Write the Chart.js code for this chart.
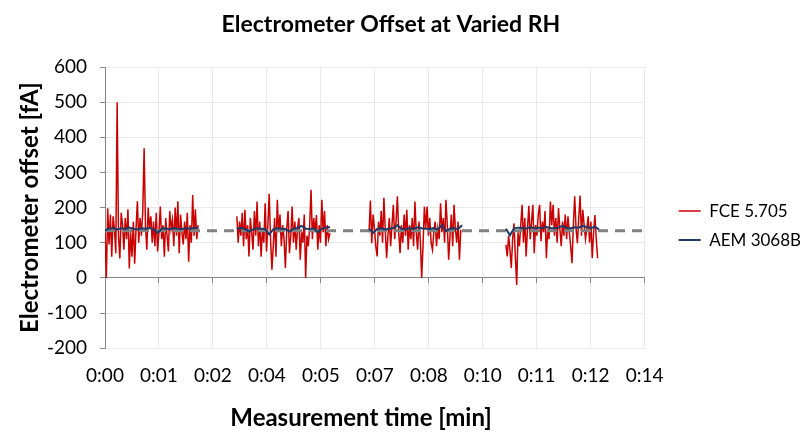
<!DOCTYPE html>
<html>
<head>
<meta charset="utf-8">
<script src="https://cdn.jsdelivr.net/npm/chart.js@4/dist/chart.umd.min.js"></script>
<style>
  html, body { margin: 0; padding: 0; background: #fff; }
</style>
</head>
<body>
<canvas id="offsetChart" width="806" height="432"></canvas>
<script>
// x axis tick labels (one every 1.4 min)
const tickLabels = ['0:00', '0:01', '0:02', '0:04', '0:05', '0:07', '0:08', '0:10', '0:11', '0:12', '0:14'];
const tickStep = 1.4;

// start time of each measurement run [min]
const segmentStarts = [0, 3.42, 6.85, 10.40];
const fceStep = 0.035; // sample interval of FCE readings
const aemStep = 0.105; // sample interval of AEM readings

// FCE 5.705 offset readings [fA], one array per run
const fceRun1 = [130, 0, 198, 95, 180, 60, 175, 140, 70, 500,
                 120, 55, 185, 150, 80, 170, 110, 195, 27, 130,
                 60, 160, 40, 140, 218, 100, 170, 120, 190, 369,
                 150, 80, 200, 140, 175, 100, 160, 90, 185, 75,
                 130, 203, 110, 150, 60, 170, 120, 75, 190, 140,
                 165, 90, 200, 120, 218, 70, 180, 130, 95, 160,
                 110, 185, 46, 150, 100, 236, 120, 195, 110, 150];
const fceRun2 = [175, 100, 160, 120, 185, 90, 194, 110, 150, 61,
                 170, 130, 80, 190, 120, 217, 90, 160, 60, 140,
                 100, 212, 75, 150, 239, 110, 23, 90, 170, 60,
                 222, 130, 180, 90, 150, 110, 28, 140, 190, 70,
                 120, 203, 100, 160, 80, 140, 170, 52, 130, 100,
                 180, 0, 120, 90, 150, 251, 110, 170, 130, 179,
                 80, 150, 100, 222, 130, 190, 90, 150, 110, 127];
const fceRun3 = [130, 220, 99, 180, 140, 90, 61, 160, 120, 190,
                 100, 228, 140, 56, 120, 170, 90, 150, 208, 110,
                 160, 232, 130, 70, 150, 100, 180, 120, 194, 80,
                 150, 110, 170, 90, 217, 130, 80, 160, 110, 0,
                 90, 203, 140, 203, 120, 170, 100, 80, 130, 160,
                 90, 140, 110, 212, 130, 170, 100, 222, 150, 52,
                 120, 180, 90, 208, 140, 100, 160, 52, 137];
const fceRun4 = [94, 61, 120, 80, 28, 110, 155, 60, -20, 130,
                 90, 150, 208, 100, 170, 61, 140, 205, 110, 160,
                 208, 70, 150, 120, 180, 208, 104, 160, 130, 190,
                 56, 140, 110, 217, 150, 208, 120, 170, 100, 199,
                 140, 90, 160, 120, 180, 110, 175, 130, 90, 42,
                 150, 232, 140, 99, 170, 234, 120, 194, 150, 110,
                 140, 175, 100, 160, 56, 130, 179, 110, 56];

// AEM 3068B offset readings [fA]
const aemRun1 = [135, 140, 142, 138, 141, 139, 143, 140, 138, 141, 140, 142,
                 139, 128, 140, 141, 138, 142, 140, 139, 141, 140, 142, 143];
const aemRun2 = [140, 142, 139, 132, 138, 141, 140, 139, 124, 138, 141, 140,
                 139, 132, 140, 142, 148, 140, 139, 141, 130, 140, 143, 145];
const aemRun3 = [140, 128, 139, 141, 138, 140, 142, 150, 140, 138, 142, 139,
                 144, 141, 140, 139, 142, 138, 150, 133, 140, 141, 139, 150];
const aemRun4 = [140, 121, 141, 143, 142, 140, 144, 141, 143, 142, 145, 142,
                 141, 143, 148, 142, 141, 144, 143, 148, 144, 142, 145, 138];

// mean offset level (dashed line) [fA]
const baselineLevel = 134;

const chartTitle = 'Electrometer Offset at Varied RH';
const xAxisTitle = 'Measurement time [min]';

// turn the runs into {x, y} points with a gap between runs
function buildSeries(runs, step) {
    const points = [];
    runs.forEach((values, r) => {
        values.forEach((v, i) => points.push({ x: segmentStarts[r] + i * step, y: v }));
        points.push({ x: segmentStarts[r] + values.length * step, y: null });
    });
    return points;
}

const fontFamily = 'Lato, "Open Sans", sans-serif';
const axisGrey = '#868686';
const gridGrey = '#e9e9e9';

function fixedTicks(axis) {
    axis.ticks = tickLabels.map((label, i) => ({ value: i * tickStep }));
}

// Excel centres the chart title and x title a bit left of where Chart.js would
const excelTitlesPlugin = {
    id: 'excelTitles',
    afterDraw(chart) {
        const c = chart.ctx;
        c.save();
        c.fillStyle = '#000';
        c.textAlign = 'center';
        c.textBaseline = 'middle';
        c.font = 'bold 23px ' + fontFamily;
        c.fillText(chartTitle, chart.width * 0.485, 25);
        c.font = 'bold 24px ' + fontFamily;
        c.fillText(xAxisTitle, chart.width * 0.448, 418);
        c.restore();
    }
};

const ctx = document.getElementById('offsetChart').getContext('2d');
new Chart(ctx, {
    type: 'line',
    data: {
        datasets: [
            {
                label: 'FCE 5.705',
                data: buildSeries([fceRun1, fceRun2, fceRun3, fceRun4], fceStep),
                borderColor: '#c80000',
                backgroundColor: '#c80000',
                borderWidth: 1.5,
                pointRadius: 0,
                order: 3
            },
            {
                label: 'AEM 3068B',
                data: buildSeries([aemRun1, aemRun2, aemRun3, aemRun4], aemStep),
                borderColor: '#1f3864',
                backgroundColor: '#1f3864',
                borderWidth: 2,
                pointRadius: 0,
                order: 1
            },
            {
                label: 'Mean',
                data: [{ x: 0, y: baselineLevel }, { x: 14, y: baselineLevel }],
                borderColor: '#808080',
                borderWidth: 3,
                borderDash: [10, 7],
                pointRadius: 0,
                order: 2
            }
        ]
    },
    plugins: [excelTitlesPlugin],
    options: {
        responsive: false,
        animation: false,
        devicePixelRatio: 1,
        layout: { padding: { left: 0, right: 6, top: 67, bottom: 29 } },
        scales: {
            x: {
                type: 'linear',
                min: 0,
                max: 14,
                afterBuildTicks: fixedTicks,
                ticks: {
                    callback: (value, index) => tickLabels[index],
                    font: { family: fontFamily, size: 19 },
                    color: '#000',
                    padding: 16,
                    maxRotation: 0
                },
                grid: { color: gridGrey, drawTicks: false },
                border: { display: false }
            },
            xZero: {
                type: 'linear',
                axis: 'x',
                position: { y: 0 },
                min: 0,
                max: 14,
                afterBuildTicks: fixedTicks,
                ticks: { display: false },
                grid: { drawOnChartArea: false, color: axisGrey, tickLength: 5 },
                border: { color: axisGrey }
            },
            y: {
                min: -200,
                max: 600,
                afterFit: scale => { scale.width = 105; },
                ticks: {
                    stepSize: 100,
                    font: { family: fontFamily, size: 19 },
                    color: '#000',
                    padding: 13
                },
                grid: { color: gridGrey, tickColor: axisGrey, tickLength: 5 },
                border: { color: axisGrey },
                title: {
                    display: true,
                    text: 'Electrometer offset [fA]',
                    font: { family: fontFamily, size: 24, weight: 'bold' },
                    color: '#000',
                    padding: { top: 16, bottom: 0 }
                }
            },
            gap: {
                type: 'linear',
                axis: 'y',
                position: 'right',
                ticks: { display: false },
                grid: { display: false },
                border: { display: false },
                afterFit: scale => { scale.width = 22; }
            }
        },
        plugins: {
            title: { display: false },
            legend: {
                position: 'right',
                fullSize: false,
                title: { display: true, text: '', font: { size: 15 }, padding: { top: 18, bottom: 0 } },
                labels: {
                    font: { family: fontFamily, size: 17 },
                    color: '#000',
                    usePointStyle: true,
                    pointStyle: 'line',
                    pointStyleWidth: 22,
                    padding: 12,
                    sort: (a, b) => a.datasetIndex - b.datasetIndex,
                    filter: item => item.datasetIndex !== 2
                }
            },
            tooltip: { enabled: false }
        }
    }
});
</script>
</body>
</html>
